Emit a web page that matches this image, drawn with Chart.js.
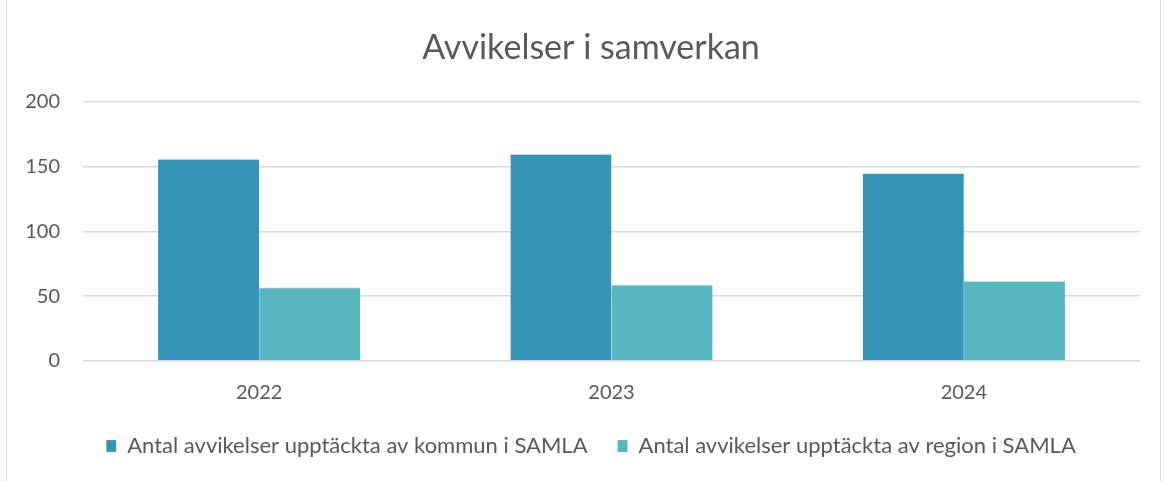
<!DOCTYPE html>
<html>
<head>
<meta charset="utf-8">
<script src="https://cdn.jsdelivr.net/npm/chart.js@4"></script>
<style>
  html, body { margin: 0; padding: 0; background: #fff; }
  #wrap { position: relative; width: 1164px; height: 481px; }
  #frame { position: absolute; left: 6px; top: 0; width: 1153px; height: 481px; border-left: 1px solid #d9d9d9; border-right: 1px solid #d9d9d9; }
  canvas { position: absolute; left: 0; top: 0; }
</style>
</head>
<body>
<div id="wrap">
  <div id="frame"></div>
  <canvas id="stage" width="1164" height="481"></canvas>
</div>
<script>
// data
const years = ['2022', '2023', '2024'];
const kommun = [156, 160, 145];
const region = [57, 59, 62];
const seriesNames = ['Antal avvikelser upptäckta av kommun i SAMLA', 'Antal avvikelser upptäckta av region i SAMLA'];
const yTicks = [0, 50, 100, 150, 200];

const txt = '#595959';
const font = 'Lato, "Open Sans", sans-serif';

const chart = new Chart(document.getElementById('stage'), {
  type: 'bar',
  data: {
    labels: years,
    datasets: [
      { label: seriesNames[0], data: kommun, backgroundColor: '#3494BA', borderColor: '#cfe6ef', borderWidth: {top: 1, left: 0, right: 0, bottom: 0} },
      { label: seriesNames[1], data: region, backgroundColor: '#58B6C0', borderColor: '#cfeaed', borderWidth: {top: 1, left: 0, right: 0, bottom: 0} }
    ]
  },
  options: {
    responsive: false,
    animation: false,
    devicePixelRatio: 1,
    layout: { padding: { left: 20, right: 2, top: 8, bottom: 14 } },
    datasets: { bar: { categoryPercentage: 0.574, barPercentage: 1.0 } },
    plugins: {
      title: {
        display: true,
        text: 'Avvikelser i samverkan',
        color: txt,
        font: { family: font, size: 34, weight: 'normal' },
        padding: { top: 20, bottom: 33 }
      },
      legend: {
        position: 'bottom',
        labels: {
          color: txt,
          font: { family: font, size: 22 },
          boxWidth: 10,
          boxHeight: 12,
          padding: 30
        }
      },
      tooltip: { enabled: false }
    },
    scales: {
      x: {
        grid: { display: false, drawTicks: false },
        border: { display: false },
        ticks: { color: txt, font: { family: font, size: 20 }, padding: 20 },
        afterFit: (s) => { s.height = 44; }
      },
      y: {
        min: 0,
        max: 200,
        afterBuildTicks: (s) => { s.ticks = yTicks.map(v => ({ value: v })); },
        afterFit: (s) => { s.width = 63; },
        grid: { color: '#d9d9d9', lineWidth: 1.5, drawTicks: false },
        border: { display: false },
        ticks: { color: txt, font: { family: font, size: 20 }, padding: 23 }
      },
      // empty room on the right of the plot
      yRight: {
        type: 'linear',
        position: 'right',
        grid: { display: false, drawTicks: false },
        border: { display: false },
        ticks: { display: false },
        afterFit: (s) => { s.width = 22; }
      }
    }
  }
});
</script>
</body>
</html>
